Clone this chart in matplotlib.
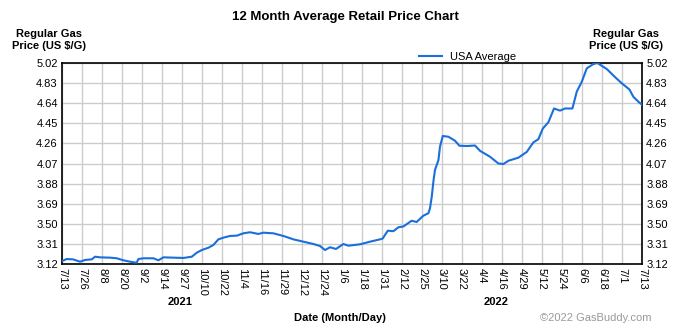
import matplotlib.pyplot as plt

plt.rcParams['font.family'] = ['Liberation Sans', 'DejaVu Sans']

# x positions in "tick units" (0 = 7/13/2021, 29 = 7/13/2022), 10 values per line
x_pos = [0.0, 0.24, 0.55, 0.9, 1.15, 1.49, 1.65, 1.9, 2.4, 2.74,
         3.07, 3.4, 3.73, 3.82, 4.07, 4.57, 4.82, 5.07, 5.57, 6.07,
         6.49, 6.74, 6.99, 7.32, 7.57, 7.82, 8.07, 8.4, 8.74, 9.07,
         9.4, 9.82, 10.07, 10.57, 11.07, 11.57, 12.07, 12.57, 12.9, 13.15,
         13.4, 13.7, 14.07, 14.32, 14.9, 15.4, 15.9, 16.03, 16.29, 16.57,
         16.82, 17.07, 17.37, 17.48, 17.73, 18.07, 18.32, 18.4, 18.49, 18.57,
         18.65, 18.82, 18.9, 19.04, 19.32, 19.65, 19.87, 20.24, 20.65, 20.9,
         21.4, 21.82, 22.07, 22.32, 22.82, 23.24, 23.57, 23.82, 24.04, 24.32,
         24.6, 24.9, 25.15, 25.52, 25.74, 25.99, 26.24, 26.57, 26.77, 27.24,
         27.65, 27.99, 28.37, 28.57, 28.82, 29.0]
price = [3.148, 3.167, 3.164, 3.142, 3.158, 3.164, 3.189, 3.183, 3.18, 3.174,
         3.155, 3.142, 3.132, 3.167, 3.174, 3.174, 3.155, 3.183, 3.18, 3.177,
         3.189, 3.227, 3.252, 3.274, 3.30, 3.353, 3.369, 3.385, 3.388, 3.41,
         3.42, 3.404, 3.416, 3.41, 3.385, 3.353, 3.331, 3.309, 3.29, 3.252,
         3.278, 3.262, 3.309, 3.293, 3.306, 3.331, 3.353, 3.36, 3.435, 3.43,
         3.467, 3.475, 3.514, 3.529, 3.517, 3.577, 3.60, 3.647, 3.76, 3.90,
         4.01, 4.10, 4.23, 4.33, 4.323, 4.285, 4.238, 4.235, 4.24, 4.19,
         4.134, 4.07, 4.065, 4.096, 4.125, 4.18, 4.27, 4.30, 4.40, 4.46,
         4.59, 4.57, 4.59, 4.59, 4.75, 4.843, 4.97, 5.01, 5.02, 4.963,
         4.887, 4.828, 4.77, 4.70, 4.654, 4.625]

x_labels = ['7/13', '7/26', '8/8', '8/20', '9/2', '9/14', '9/27', '10/10', '10/22',
            '11/4', '11/16', '11/29', '12/12', '12/24', '1/6', '1/18', '1/31', '2/12',
            '2/25', '3/10', '3/22', '4/4', '4/16', '4/29', '5/12', '5/24', '6/6',
            '6/18', '7/1', '7/13']
y_ticks = [3.12, 3.31, 3.50, 3.69, 3.88, 4.07, 4.26, 4.45, 4.64, 4.83, 5.02]

fig = plt.figure(figsize=(6.78, 3.29), dpi=100)
ax = fig.add_axes([62 / 678, 65 / 329, 580 / 678, 201 / 329])

ax.plot(x_pos, price, color='#1a6fdc', lw=1.5, label='USA Average', zorder=3)

ax.set_xlim(0, len(x_labels) - 1)
ax.set_ylim(y_ticks[0], y_ticks[-1])
ax.set_xticks(range(len(x_labels)))
ax.set_xticklabels(x_labels, rotation=-90, fontsize=8)
ax.set_yticks(y_ticks)
ax.set_yticklabels([f"{v:.2f}" for v in y_ticks], fontsize=8)
ax.tick_params(length=0, pad=3, labelright=True, right=False)
ax.grid(True, color='#cccccc', lw=1)
ax.set_axisbelow(True)
for s in ax.spines.values():
    s.set_linewidth(1.2)

fig.text(345 / 678, 1 - 17 / 329, '12 Month Average Retail Price Chart',
         ha='center', va='center', fontsize=9.5, fontweight='bold')
for xc in (49 / 678, 626 / 678):
    fig.text(xc, 1 - 40 / 329, 'Regular Gas\nPrice (US $/G)', ha='center',
             va='center', fontsize=8, fontweight='bold', linespacing=1.35)

ax.legend(loc='lower center', bbox_to_anchor=(0.7, 0.985), frameon=False,
          fontsize=8, handlelength=2.0, borderaxespad=0)

fig.text(180 / 678, 1 - 302 / 329, '2021', ha='center', va='center',
         fontsize=8, fontweight='bold')
fig.text(496 / 678, 1 - 302 / 329, '2022', ha='center', va='center',
         fontsize=8, fontweight='bold')
fig.text(340 / 678, 1 - 318 / 329, 'Date (Month/Day)', ha='center', va='center',
         fontsize=8, fontweight='bold')
fig.text(652 / 678, 1 - 318 / 329, '©2022 GasBuddy.com', ha='right', va='center',
         fontsize=8, color='#999999')

fig.savefig('out.png', dpi=100)
